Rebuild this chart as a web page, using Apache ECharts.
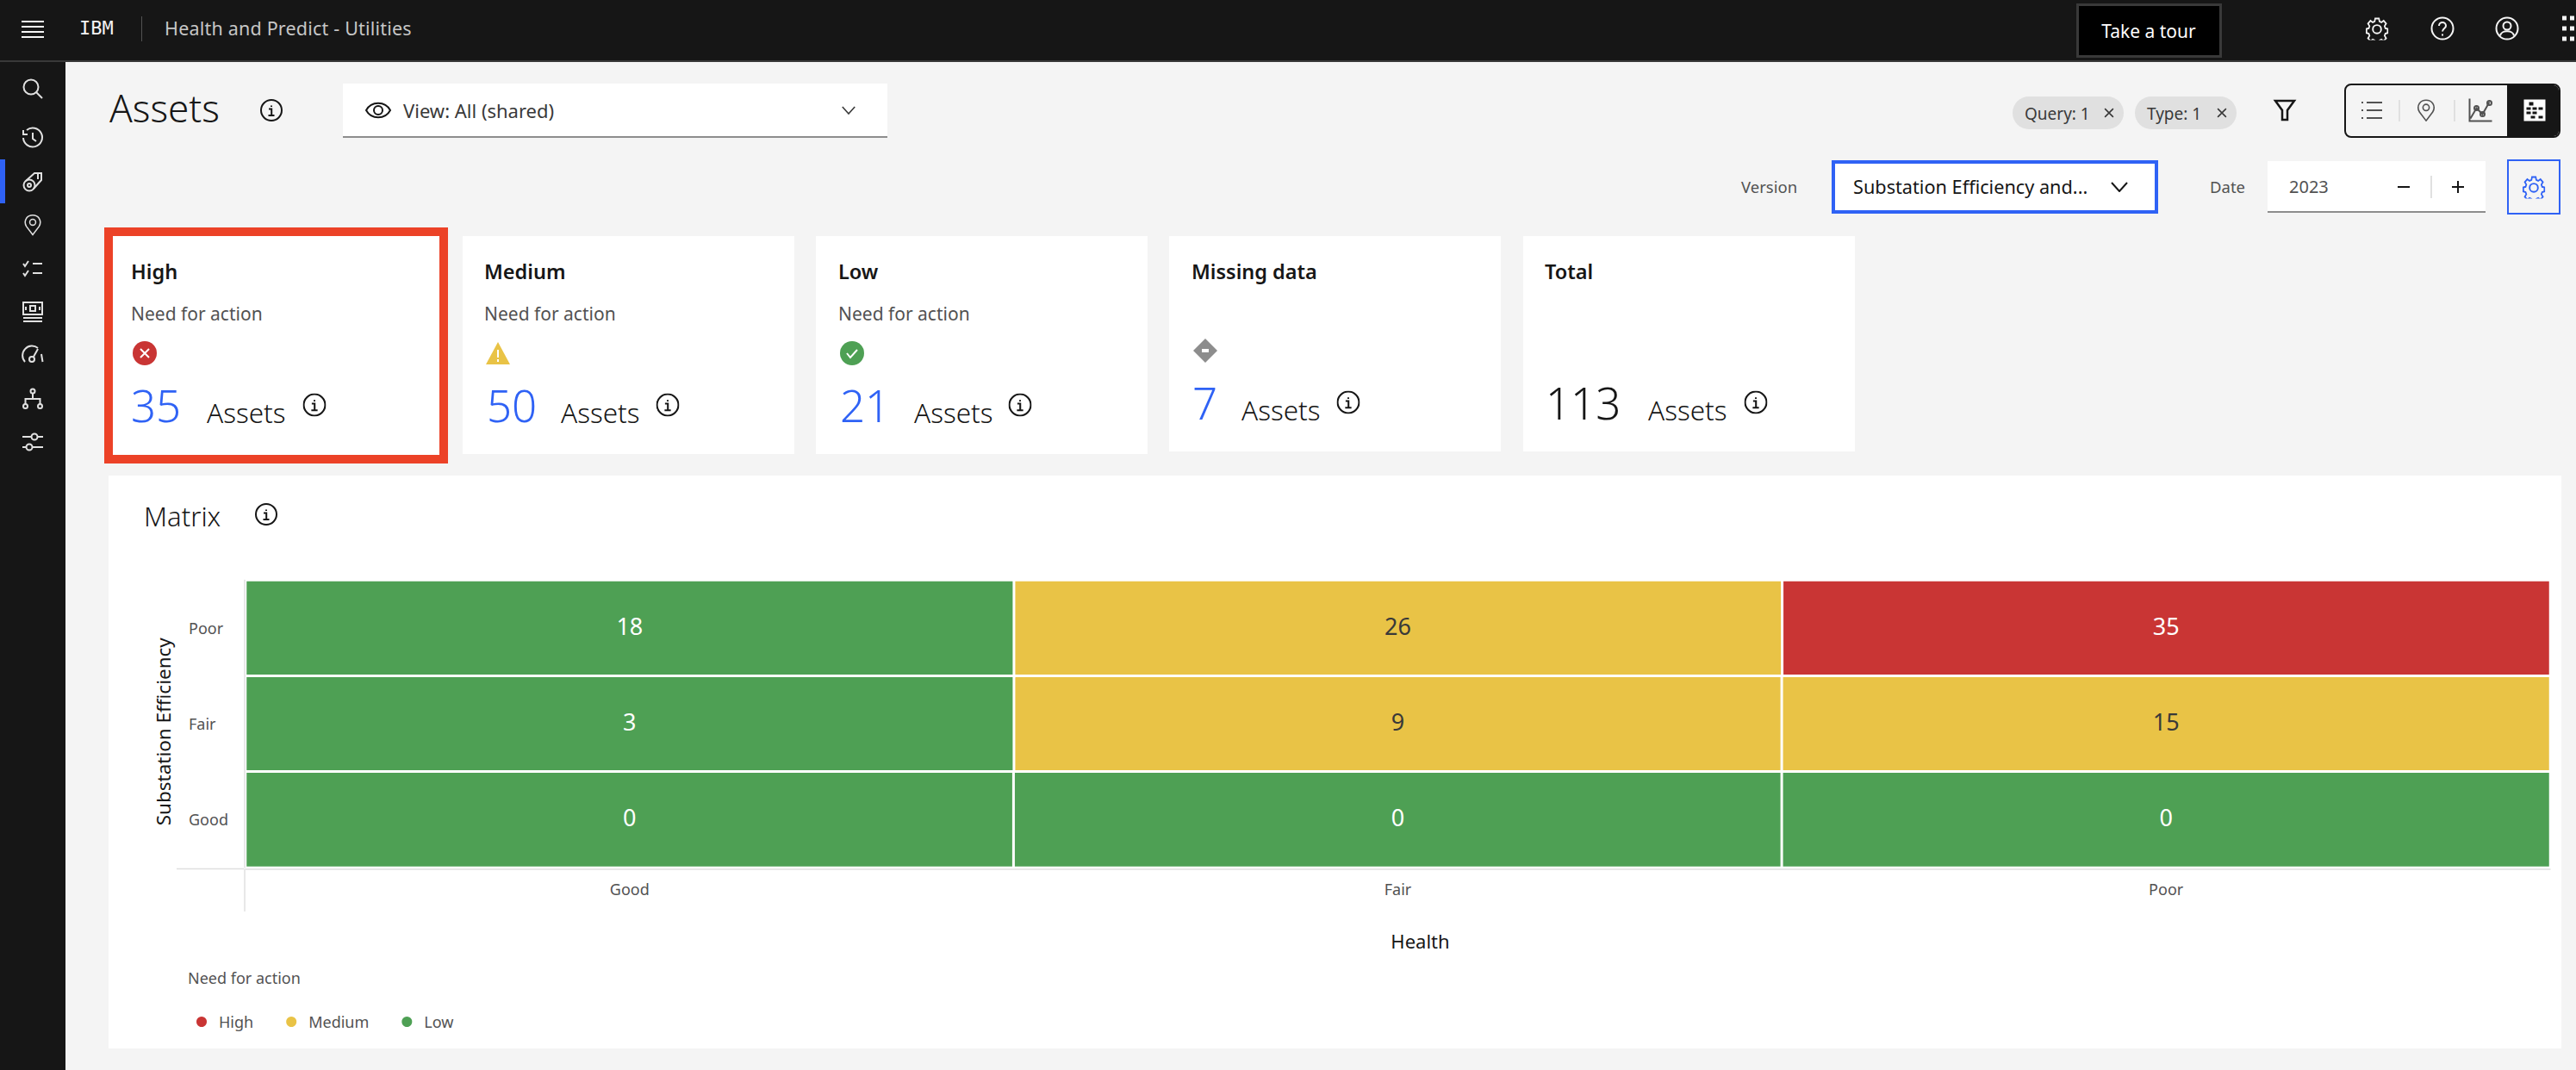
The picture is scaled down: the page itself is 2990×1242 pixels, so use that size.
<!DOCTYPE html>
<html lang="en">
<head>
<meta charset="UTF-8">
<title>Assets - Health and Predict</title>
<script src="https://cdn.jsdelivr.net/npm/echarts@6/dist/echarts.min.js"></script>
<style>
    *{ margin:0; padding:0; box-sizing:border-box; }
    html,body{ width:2990px; height:1242px; overflow:hidden; background:#f4f4f4; font-family:"Noto Sans",sans-serif; color:#161616; }
    .box{ position:absolute; }
    /* t = text anchored left and vertically centred, c = anything centred on its x,y */
    .t{ position:absolute; white-space:nowrap; transform:translateY(-50%); line-height:1.2; }
    .c{ position:absolute; transform:translate(-50%,-50%); display:block; }
    svg.c{ fill:none; stroke:currentColor; stroke-width:2; overflow:visible; }
    .card{ position:absolute; background:#fff; top:274px; }
    .card-title{ font-size:23.5px; font-weight:600; }
    .card-sub{ font-size:21px; color:#525252; }
    .card-num{ font-size:51px; font-weight:300; color:#2f62f5; }
    .card-unit{ font-size:31.5px; font-weight:300; }
    .label{ font-size:18.5px; color:#525252; }
    #matrix{ position:absolute; left:126px; top:552px; width:2847px; height:665px; background:#fff; }
</style>
</head>
<body>

<svg width="0" height="0" style="position:absolute">
    <symbol id="i-info" viewBox="0 0 26 26"><circle cx="13" cy="13" r="12"/><path d="M13 7.500v1.600M10 11.500h3.200V19M9.500 19h7"/></symbol>
    <symbol id="i-gear" viewBox="0 0 28 28"><path d="M11.500 2h5l.7 3.600 2.600 1.100 3-2 3.300 3.500-2 3 1 2.600 3 .7v5l-3 .7-1 2.600 2 3-3.300 3.500-3-2-2.600 1.100-.7 3h-5l-.7-3-2.600-1.100-3 2-3.300-3.500 2-3-1-2.600-3-.7v-5l3-.7 1-2.600-2-3 3.300-3.500 3 2 2.600-1.100z" transform="translate(1.500 0) scale(.9 1)"/><circle cx="14" cy="15" r="5"/></symbol>
    <symbol id="i-pin" viewBox="0 0 26 32"><path d="M13 31 3.500 18.500C1 14.500 1 10 3.500 6c4.500-6 14.500-6 19 0 2.500 4 2.500 8.500 0 12.500z"/><circle cx="13" cy="12" r="4.500"/></symbol>
    <symbol id="i-close" viewBox="0 0 16 16"><path d="M2 2 14 14M14 2 2 14"/></symbol>
    <symbol id="i-chev" viewBox="0 0 20 12"><path d="M1 1 10 11 19 1"/></symbol>
</svg>

<!-- top bar -->
<div class="box" style="left:0;top:0;width:2990px;height:72px;background:#161616;border-bottom:2px solid #393939"></div>
<div class="box" style="left:0;top:72px;width:76px;height:1170px;background:#161616"></div>
<div class="box" style="left:0;top:185px;width:6px;height:51px;background:#2f62f5"></div>
<svg class="c" style="left:38px;top:34px;color:#f4f4f4" width="26" height="20"><path d="M0 1h26M0 7h26M0 13h26M0 19h26"/></svg>
<span class="t" style="left:92px;top:33px;color:#f4f4f4;font-size:22px;font-family:'DejaVu Sans Mono',monospace">IBM</span>
<div class="box" style="left:164px;top:19px;width:1px;height:29px;background:#525252"></div>
<span class="t" style="left:191px;top:33px;color:#c6c6c6;font-size:21.5px;letter-spacing:.2px">Health and Predict - Utilities</span>
<div class="box" style="left:2410px;top:4px;width:169px;height:63px;background:#000;border:3px solid #393939"></div>
<span class="c" style="left:2494px;top:36px;color:#fff;font-size:21px;white-space:nowrap">Take a tour</span>
<svg class="c" style="left:2759px;top:33px;color:#f4f4f4" width="27" height="27"><use href="#i-gear"/></svg>
<svg class="c" style="left:2835px;top:33px;color:#f4f4f4" width="27" height="27" viewBox="0 0 27 27"><circle cx="13.500" cy="13.500" r="12.500"/><path d="M9.500 10.500c0-5.500 8-5.500 8 0 0 3-4 3-4 6.500M13.500 20v2"/></svg>
<svg class="c" style="left:2910px;top:33px;color:#f4f4f4" width="27" height="27" viewBox="0 0 27 27"><circle cx="13.500" cy="13.500" r="12.500"/><circle cx="13.500" cy="10.500" r="4.500"/><path d="M5.500 22c1-7 15-7 16 0"/></svg>
<svg class="c" style="left:2981px;top:33px;color:#f4f4f4;stroke-width:5" width="14" height="24"><path d="M0 0h5M9 0h5M0 12h5M9 12h5M0 24h5M9 24h5"/></svg>

<!-- side nav -->
<svg class="c" style="left:38px;top:103px;color:#e0e0e0" width="24" height="24" viewBox="0 0 24 24"><circle cx="10" cy="10" r="8.500"/><path d="M16 16 23 23"/></svg>
<svg class="c" style="left:38px;top:160px;color:#e0e0e0" width="24" height="24" viewBox="0 0 24 24"><path d="M5 3A11 11 0 1 1 1 12M1 3v5h5M12 6v7l4 3"/></svg>
<svg class="c" style="left:38px;top:211px;color:#e0e0e0" width="24" height="24" viewBox="0 0 24 24"><circle cx="8" cy="16" r="6.500"/><circle cx="8" cy="16" r="2"/><path d="M4 11 14 2h8v8l-9 10M18 3v6"/></svg>
<svg class="c" style="left:38px;top:261px;color:#e0e0e0" width="20" height="26"><use href="#i-pin"/></svg>
<svg class="c" style="left:38px;top:312px;color:#e0e0e0" width="24" height="20" viewBox="0 0 24 20"><path d="M1 4l2 3 4-6M12 4h11M1 15l2 3 4-6M12 15h11"/></svg>
<svg class="c" style="left:38px;top:362px;color:#e0e0e0" width="24" height="24" viewBox="0 0 24 24"><rect x="1" y="1" width="22" height="14"/><rect x="9" y="5" width="6" height="6"/><path d="M4 6v4M20 6v4M1 19h22M1 23h22"/></svg>
<svg class="c" style="left:38px;top:411px;color:#e0e0e0" width="24" height="20" viewBox="0 0 24 20"><path d="M3 19A11 11 0 0 1 18 3M22 10l1.500 9"/><circle cx="11" cy="16" r="3"/><path d="M13 13 18 4"/></svg>
<svg class="c" style="left:38px;top:463px;color:#e0e0e0" width="24" height="24" viewBox="0 0 24 24"><circle cx="12" cy="3" r="2.500"/><circle cx="3.500" cy="20.500" r="2.500"/><circle cx="20.500" cy="20.500" r="2.500"/><path d="M12 6v6M3.500 18v-6h17v6"/></svg>
<svg class="c" style="left:38px;top:513px;color:#e0e0e0" width="24" height="24" viewBox="0 0 24 24"><circle cx="14" cy="6" r="3.500"/><circle cx="8" cy="18" r="3.500"/><path d="M0 6h10M18 6h6M0 18h4M12 18h12"/></svg>

<!-- page heading row -->
<span class="t" style="left:127px;top:125px;font-size:44px;font-weight:300">Assets</span>
<svg class="c" style="left:315px;top:128px" width="26" height="26"><use href="#i-info"/></svg>
<div class="box" style="left:398px;top:97px;width:632px;height:63px;background:#fff;border-bottom:2px solid #8d8d8d"></div>
<svg class="c" style="left:439px;top:128px" width="30" height="24" viewBox="0 0 30 24"><path d="M1 12C7 1 23 1 29 12 23 23 7 23 1 12z"/><circle cx="15" cy="12" r="5"/></svg>
<span class="t" style="left:468px;top:128px;font-size:22px;color:#393939">View: All (shared)</span>
<svg class="c" style="left:985px;top:128px;color:#393939" width="16" height="10"><use href="#i-chev"/></svg>

<div class="box" style="left:2336px;top:112px;width:129px;height:38px;background:#e0e0e0;border-radius:19px"></div>
<span class="t" style="left:2350px;top:132px;font-size:19px;color:#393939">Query: 1</span>
<svg class="c" style="left:2448px;top:131px;color:#393939" width="13" height="13"><use href="#i-close"/></svg>
<div class="box" style="left:2478px;top:112px;width:118px;height:38px;background:#e0e0e0;border-radius:19px"></div>
<span class="t" style="left:2492px;top:132px;font-size:19px;color:#393939">Type: 1</span>
<svg class="c" style="left:2579px;top:131px;color:#393939" width="13" height="13"><use href="#i-close"/></svg>
<svg class="c" style="left:2652px;top:128px;stroke-width:2.500" width="24" height="24" viewBox="0 0 24 24"><path d="M1 1h22L15 12v11H9V12z"/></svg>

<div class="box" style="left:2721px;top:97px;width:251px;height:63px;background:#f4f4f4;border:2px solid #161616;border-radius:8px;overflow:hidden">
    <div class="box" style="left:187px;top:-2px;width:64px;height:63px;background:#161616"></div>
</div>
<svg class="c" style="left:2753px;top:128px;color:#525252" width="24" height="20" viewBox="0 0 24 20"><path d="M0 1h2M6 1h18M0 10h2M6 10h18M0 19h2M6 19h18"/></svg>
<div class="box" style="left:2784px;top:116px;width:2px;height:25px;background:#e0e0e0"></div>
<svg class="c" style="left:2816px;top:128px;color:#525252" width="21" height="26"><use href="#i-pin"/></svg>
<div class="box" style="left:2848px;top:116px;width:2px;height:25px;background:#e0e0e0"></div>
<svg class="c" style="left:2879px;top:128px;color:#525252" width="27" height="27" viewBox="0 0 27 27"><path d="M1 0v26h26M2 23 9 11l7 7 8-14"/><circle cx="9" cy="11" r="2.500"/><circle cx="16" cy="18" r="2.500"/><circle cx="24" cy="5" r="2.500"/></svg>
<svg class="c" style="left:2942px;top:128px;color:#fff;stroke:none;fill:#fff" width="25" height="25" viewBox="0 0 25 25"><path d="M0 0h25v25H0z"/><path fill="#161616" d="M6 3h5v4H6zM3 9h5v3H3zM10 9h5v3h-5zM17 9h5v3h-5zM3 14h5v3H3zM10 14h5v3h-5zM8 19h5v3H8zM17 19h5v3h-5z"/></svg>

<span class="t label" style="left:2021px;top:217px">Version</span>
<div class="box" style="left:2126px;top:186px;width:379px;height:62px;background:#fff;border:4px solid #2f62f5"></div>
<span class="t" style="left:2151px;top:217px;font-size:21.7px">Substation Efficiency and...</span>
<svg class="c" style="left:2460px;top:217px" width="20" height="12"><use href="#i-chev"/></svg>
<span class="t label" style="left:2565px;top:217px">Date</span>
<div class="box" style="left:2632px;top:187px;width:253px;height:60px;background:#fff;border-bottom:2px solid #8d8d8d"></div>
<span class="t" style="left:2657px;top:217px;font-size:20px;color:#525252">2023</span>
<svg class="c" style="left:2790px;top:217px" width="14" height="2"><path d="M0 1h14"/></svg>
<div class="box" style="left:2821px;top:204px;width:2px;height:26px;background:#e0e0e0"></div>
<svg class="c" style="left:2853px;top:217px" width="14" height="14"><path d="M0 7h14M7 0v14"/></svg>
<div class="box" style="left:2910px;top:185px;width:62px;height:64px;border:2px solid #2f62f5"></div>
<svg class="c" style="left:2941px;top:217px;color:#2f62f5" width="27" height="27"><use href="#i-gear"/></svg>

<!-- summary cards, filled in below -->
<div id="cards"></div>

<!-- the matrix -->
<div id="matrix"></div>
<svg class="c" style="left:309px;top:597px" width="26" height="26"><use href="#i-info"/></svg>

<script>
    // matrix axes
    var healthLevels = ['Good', 'Fair', 'Poor'];
    var efficiencyLevels = ['Good', 'Fair', 'Poor'];

    // cells as [health index, efficiency index, asset count]
    var highCells = [[2, 2, 35]];
    var mediumCells = [[1, 2, 26], [1, 1, 9], [2, 1, 15]];
    var lowCells = [[0, 2, 18], [0, 1, 3], [0, 0, 0], [1, 0, 0], [2, 0, 0]];

    // summary cards
    var cardTitles = ['High', 'Medium', 'Low', 'Missing data', 'Total'];
    var cardSubtitles = ['Need for action', 'Need for action', 'Need for action', '', ''];
    var cardCounts = [35, 50, 21, 7, 113];

    var RED = '#c93534', YELLOW = '#e9c346', GREEN = '#4ea054';

    // left, width, height, text x, number x, assets x, info x, row y
    var cardBoxes = [
        [131, 379, 254, 152, 152, 240, 365, 471],
        [537, 385, 253, 562, 565, 651, 775, 471],
        [947, 385, 253, 973, 975, 1061, 1184, 471],
        [1357, 385, 250, 1383, 1384, 1441, 1565, 468],
        [1768, 385, 250, 1793, 1794, 1913, 2038, 468]
    ];
    var statusIcons = [
        '<svg class="c" style="left:{x}px;top:410px;stroke:#fff" width="28" height="28" viewBox="0 0 28 28"><circle cx="14" cy="14" r="14" fill="' + RED + '" stroke="none"/><path d="M9 9l10 10M19 9 9 19"/></svg>',
        '<svg class="c" style="left:{x}px;top:410px;stroke:#fff" width="28" height="26" viewBox="0 0 28 26"><path d="M14 0l14 26H0z" fill="' + YELLOW + '" stroke="none"/><path d="M14 9v9M14 20v3"/></svg>',
        '<svg class="c" style="left:{x}px;top:410px;stroke:#fff" width="28" height="28" viewBox="0 0 28 28"><circle cx="14" cy="14" r="14" fill="' + GREEN + '" stroke="none"/><path d="M8 14l4 5 8-9"/></svg>',
        '<svg class="c" style="left:{x}px;top:407px;stroke:#fff;stroke-width:4" width="28" height="28" viewBox="0 0 28 28"><path d="M14 0l14 14-14 14L0 14z" fill="#8d8d8d" stroke="none"/><path d="M10 14h8"/></svg>',
        ''
    ];

    var html = '<div class="box" style="left:121px;top:264px;width:399px;height:274px;background:#ec4227"></div>';
    for (var i = 0; i < cardTitles.length; i++) {
        var b = cardBoxes[i];
        html += '<div class="card" style="left:' + b[0] + 'px;width:' + b[1] + 'px;height:' + b[2] + 'px"></div>';
        html += '<span class="t card-title" style="left:' + b[3] + 'px;top:315px">' + cardTitles[i] + '</span>';
        if (cardSubtitles[i]) {
            html += '<span class="t card-sub" style="left:' + b[3] + 'px;top:365px">' + cardSubtitles[i] + '</span>';
        }
        html += statusIcons[i].replace('{x}', b[3] + 16);
        html += '<span class="t card-num" style="left:' + b[4] + 'px;top:' + b[7] + 'px' + (i === 4 ? ';color:#161616' : '') + '">' + cardCounts[i] + '</span>';
        html += '<span class="t card-unit" style="left:' + b[5] + 'px;top:' + (b[7] + 8) + 'px">Assets</span>';
        html += '<svg class="c" style="left:' + b[6] + 'px;top:' + (b[7] - 1) + 'px" width="27" height="27"><use href="#i-info"/></svg>';
    }
    document.getElementById('cards').innerHTML = html;

    var FONT = '"Noto Sans", sans-serif';
    var AXIS_GREY = '#e0e0e0';

    function cellSeries(name, color, labelColor, cells) {
        return {
            name: name,
            type: 'heatmap',
            data: cells,
            itemStyle: { color: color, borderColor: '#fff', borderWidth: 3 },
            label: { show: true, color: labelColor, fontSize: 27, fontFamily: FONT, offset: [0, -3] },
            emphasis: { disabled: true }
        };
    }

    var myChart = echarts.init(document.getElementById('matrix'), null, { renderer: 'svg' });
    myChart.setOption({
        animation: false,
        backgroundColor: '#fff',
        textStyle: { fontFamily: FONT },
        title: [
            { text: 'Matrix', left: 36, top: 26, textStyle: { fontSize: 31, fontWeight: 300, color: '#161616', fontFamily: FONT } },
            { text: 'Need for action', left: 87, top: 569, textStyle: { fontSize: 18, fontWeight: 400, color: '#525252', fontFamily: FONT } }
        ],
        legend: {
            left: 95,
            top: 620,
            itemWidth: 14,
            itemHeight: 14,
            itemGap: 36,
            icon: 'circle',
            selectedMode: false,
            data: ['High', 'Medium', 'Low'],
            textStyle: { fontSize: 18, color: '#525252', fontFamily: FONT, padding: [0, 0, 0, 8] }
        },
        // the two axis lines run on past the grid corner
        graphic: [
            { type: 'line', shape: { x1: 79, y1: 456.5, x2: 158, y2: 456.5 }, style: { stroke: AXIS_GREY, lineWidth: 1.5 } },
            { type: 'line', shape: { x1: 158, y1: 456, x2: 158, y2: 506 }, style: { stroke: AXIS_GREY, lineWidth: 1.5 } }
        ],
        grid: { left: 159, top: 121.5, width: 2675, height: 333.5 },
        xAxis: {
            type: 'category',
            data: healthLevels,
            z: 3,
            offset: 1.5,
            name: 'Health',
            nameLocation: 'middle',
            nameGap: 72,
            nameTextStyle: { fontSize: 22, color: '#161616', padding: [0, 0, 0, 52] },
            axisLine: { lineStyle: { color: AXIS_GREY, width: 1.5 } },
            axisTick: { show: false },
            axisLabel: { color: '#525252', fontSize: 18, margin: 14 },
            splitLine: { show: false }
        },
        yAxis: {
            type: 'category',
            data: efficiencyLevels,
            z: 3,
            offset: 1,
            name: 'Substation Efficiency',
            nameLocation: 'middle',
            nameGap: 83,
            nameTextStyle: { fontSize: 22.5, color: '#161616', padding: [0, 18, 0, 0] },
            axisLine: { lineStyle: { color: AXIS_GREY, width: 1.5 } },
            axisTick: { show: false },
            axisLabel: { color: '#525252', fontSize: 18, align: 'left', margin: 65, padding: [0, 0, 7, 0] },
            splitLine: { show: false }
        },
        series: [
            cellSeries('High', RED, '#fff', highCells),
            cellSeries('Medium', YELLOW, '#393939', mediumCells),
            cellSeries('Low', GREEN, '#fff', lowCells)
        ]
    });
    window.onresize = myChart.resize;
</script>
</body>
</html>
